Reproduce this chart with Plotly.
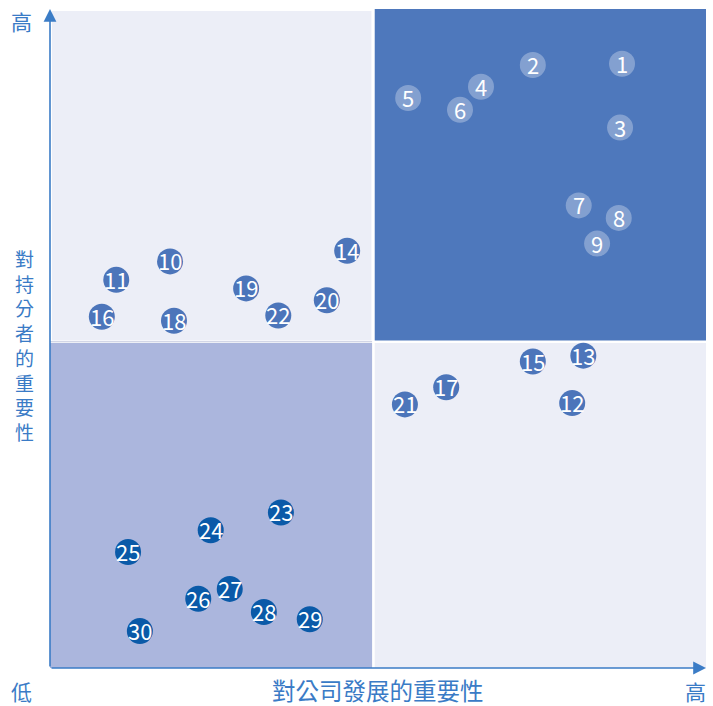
import plotly.graph_objects as go

# Issue IDs and their positions (x: importance to company development, y: importance to stakeholders), 0-10 scale
ids = [str(i) for i in range(1, 31)]
x_vals = [8.72, 7.36, 8.69, 6.57, 5.46, 6.25, 8.06, 8.67, 8.34, 1.83,
          1.01, 7.96, 8.13, 4.53, 7.36, 0.79, 6.04, 1.89, 2.99, 4.22,
          5.41, 3.48, 3.52, 2.45, 1.19, 2.26, 2.74, 3.26, 3.96, 1.37]
y_vals = [9.17, 9.15, 8.20, 8.82, 8.65, 8.47, 7.02, 6.83, 6.44, 6.17,
          5.89, 4.02, 4.74, 6.33, 4.65, 5.33, 4.26, 5.27, 5.76, 5.58,
          4.00, 5.35, 2.36, 2.09, 1.76, 1.05, 1.20, 0.85, 0.74, 0.56]

x_title = "對公司發展的重要性"
y_title = "對持分者的重要性"
low_label = "低"
high_label = "高"

split_x = 4.93
split_y = 4.95

LIGHT = "#eceef7"
DARK = "#4e78bc"
LOWQ = "#abb6dd"
MID_MARK = "#4c75ba"
HI_MARK = "rgba(255,255,255,0.30)"
LOW_MARK = "#0a5aa8"
AXIS = "#3b7cc6"
TEXT_C = "#3a7bc6"
FONT = "Noto Sans CJK TC"

# plot area in pixels (for placing outside labels)
L, T, B = 50, 9, 38
W, H = 713 - L - 7, 706 - T - B


def px_to_paper(px, py):
    return (px - L) / W, (706 - B - py) / H


def mark_color(x, y):
    if x > split_x and y > split_y:
        return HI_MARK
    if x < split_x and y < split_y:
        return LOW_MARK
    return MID_MARK


colors = [mark_color(x, y) for x, y in zip(x_vals, y_vals)]

fig = go.Figure()

shapes = [
    dict(type="rect", x0=0.03, x1=split_x - 0.03, y0=split_y + 0.02, y1=9.97,
         fillcolor=LIGHT, line_width=0, layer="below"),
    dict(type="rect", x0=split_x + 0.02, x1=10, y0=split_y + 0.02, y1=10.0,
         fillcolor=DARK, line_width=0, layer="below"),
    dict(type="rect", x0=0, x1=split_x - 0.02, y0=0, y1=split_y - 0.02,
         fillcolor=LOWQ, line_width=0, layer="below"),
    dict(type="rect", x0=split_x + 0.02, x1=10, y0=0, y1=split_y - 0.02,
         fillcolor=LIGHT, line_width=0, layer="below"),
    dict(type="line", x0=0, x1=split_x - 0.02, y0=split_y, y1=split_y,
         line=dict(color="#c0c6dc", width=1), layer="below"),
]

fig.add_trace(go.Scatter(
    x=x_vals, y=y_vals, mode="markers",
    marker=dict(size=26, color=colors, line=dict(width=0)),
    hoverinfo="skip", showlegend=False,
))

annotations = []
for i, x, y in zip(ids, x_vals, y_vals):
    annotations.append(dict(
        x=x, y=y, xref="x", yref="y", text=i, showarrow=False,
        font=dict(family=FONT, size=22, color="white"),
        xanchor="center", yanchor="middle", yshift=1))

annotations += [
    dict(x=0, y=10.0, ax=0, ay=0, xref="x", yref="y", axref="x", ayref="y",
         text="", showarrow=True, arrowhead=2, arrowsize=1.6, arrowwidth=1.6,
         arrowcolor=AXIS),
    dict(x=10.0, y=0, ax=0, ay=0, xref="x", yref="y", axref="x", ayref="y",
         text="", showarrow=True, arrowhead=2, arrowsize=1.6, arrowwidth=1.6,
         arrowcolor=AXIS),
]

for txt, (px, py), size in [(high_label, (22, 21), 21), (low_label, (21, 691), 21),
                            (high_label, (695, 691), 21), (x_title, (378, 690), 23.5)]:
    xp, yp = px_to_paper(px, py)
    annotations.append(dict(
        x=xp, y=yp, xref="paper", yref="paper", text=txt, showarrow=False,
        font=dict(family=FONT, size=size, color=TEXT_C),
        xanchor="center", yanchor="middle"))

# vertical y-axis title: one character per line
xp, yp = px_to_paper(24, 345)
annotations.append(dict(
    x=xp, y=yp, xref="paper", yref="paper",
    text="<br>".join(y_title), showarrow=False,
    font=dict(family=FONT, size=19, color=TEXT_C),
    xanchor="center", yanchor="middle", align="center"))

fig.update_layout(
    width=713, height=706,
    margin=dict(l=L, r=7, t=T, b=B),
    paper_bgcolor="white", plot_bgcolor="white",
    xaxis=dict(range=[0, 10], visible=False, fixedrange=True),
    yaxis=dict(range=[0, 10], visible=False, fixedrange=True),
    shapes=shapes, annotations=annotations,
)

fig.write_html("out.html")
